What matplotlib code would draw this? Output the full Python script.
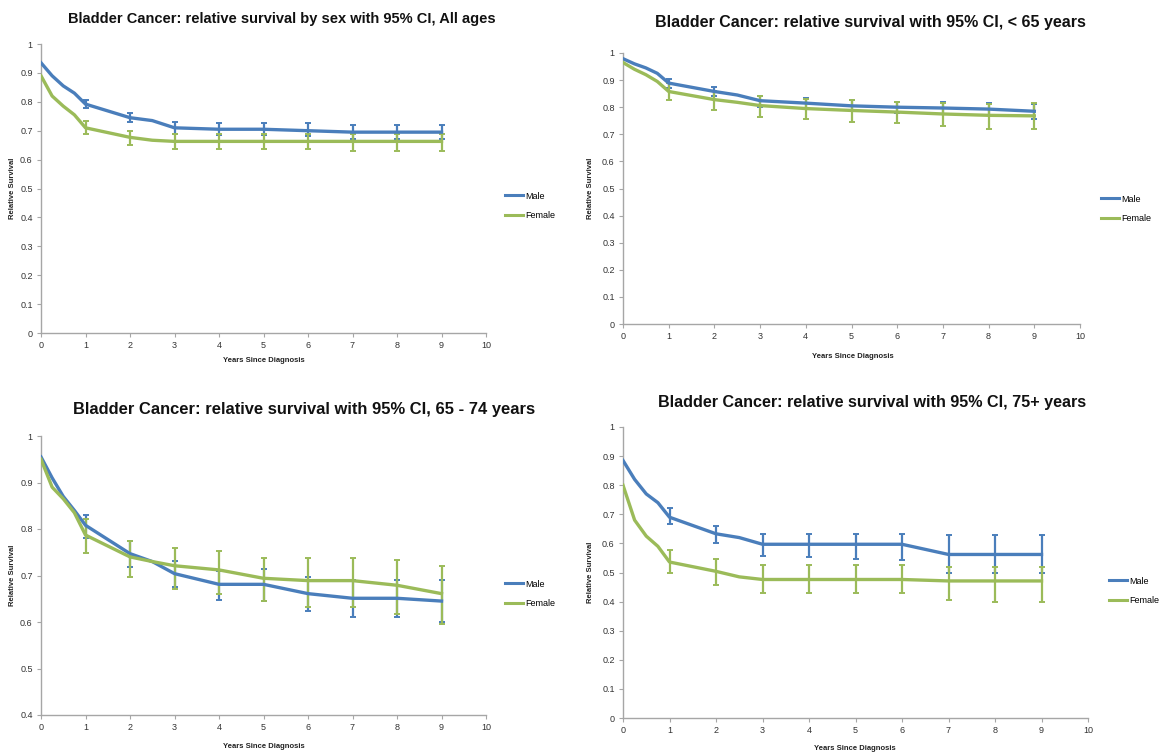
import numpy as np
import matplotlib
matplotlib.use("Agg")
import matplotlib.pyplot as plt
from matplotlib.lines import Line2D

plt.rcParams['font.family'] = ['Liberation Sans', 'DejaVu Sans']

# years for the survival curves, and the years that carry a 95% CI bar
years = [0, 0.25, 0.5, 0.75, 1, 2, 2.5, 3, 4, 5, 6, 7, 8, 9]
ci_years = [1, 2, 3, 4, 5, 6, 7, 8, 9]

# All ages
all_male = [0.935, 0.89, 0.855, 0.83, 0.792, 0.745, 0.735, 0.71, 0.705, 0.705, 0.70, 0.695, 0.695, 0.695]
all_female = [0.89, 0.82, 0.785, 0.755, 0.71, 0.677, 0.667, 0.663, 0.663, 0.663, 0.663, 0.663, 0.663, 0.663]
all_male_lo = [0.78, 0.73, 0.69, 0.685, 0.685, 0.68, 0.67, 0.67, 0.67]
all_male_hi = [0.805, 0.76, 0.73, 0.725, 0.725, 0.725, 0.72, 0.72, 0.72]
all_female_lo = [0.69, 0.65, 0.635, 0.635, 0.635, 0.635, 0.63, 0.63, 0.63]
all_female_hi = [0.735, 0.70, 0.69, 0.69, 0.69, 0.69, 0.69, 0.69, 0.69]

# < 65 years
u65_male = [0.979, 0.96, 0.945, 0.925, 0.889, 0.858, 0.845, 0.824, 0.815, 0.805, 0.80, 0.797, 0.793, 0.785]
u65_female = [0.965, 0.94, 0.92, 0.895, 0.858, 0.828, 0.818, 0.806, 0.795, 0.788, 0.782, 0.775, 0.77, 0.768]
u65_male_lo = [0.87, 0.84, 0.80, 0.795, 0.785, 0.78, 0.775, 0.77, 0.755]
u65_male_hi = [0.905, 0.875, 0.84, 0.835, 0.825, 0.82, 0.82, 0.815, 0.81]
u65_female_lo = [0.825, 0.79, 0.765, 0.755, 0.745, 0.74, 0.73, 0.72, 0.72]
u65_female_hi = [0.89, 0.86, 0.84, 0.83, 0.825, 0.82, 0.815, 0.81, 0.815]

# 65 - 74 years
mid_male = [0.955, 0.91, 0.87, 0.84, 0.808, 0.747, 0.73, 0.704, 0.681, 0.681, 0.661, 0.651, 0.651, 0.645]
mid_female = [0.95, 0.89, 0.865, 0.835, 0.787, 0.74, 0.73, 0.721, 0.712, 0.694, 0.689, 0.689, 0.679, 0.661]
mid_male_lo = [0.78, 0.718, 0.675, 0.648, 0.645, 0.623, 0.61, 0.61, 0.60]
mid_male_hi = [0.83, 0.775, 0.732, 0.71, 0.715, 0.697, 0.69, 0.69, 0.69]
mid_female_lo = [0.748, 0.697, 0.672, 0.66, 0.645, 0.633, 0.632, 0.618, 0.596]
mid_female_hi = [0.822, 0.775, 0.76, 0.752, 0.738, 0.737, 0.737, 0.733, 0.72]

# 75+ years
old_male = [0.885, 0.82, 0.77, 0.74, 0.69, 0.633, 0.62, 0.597, 0.597, 0.597, 0.597, 0.562, 0.562, 0.562]
old_female = [0.80, 0.68, 0.625, 0.59, 0.536, 0.504, 0.485, 0.476, 0.476, 0.476, 0.476, 0.471, 0.471, 0.471]
old_male_lo = [0.665, 0.60, 0.557, 0.552, 0.547, 0.543, 0.50, 0.50, 0.50]
old_male_hi = [0.72, 0.66, 0.633, 0.633, 0.633, 0.633, 0.63, 0.63, 0.63]
old_female_lo = [0.497, 0.457, 0.428, 0.428, 0.428, 0.428, 0.405, 0.40, 0.40]
old_female_hi = [0.578, 0.547, 0.527, 0.527, 0.527, 0.527, 0.52, 0.52, 0.52]

BLUE = '#4a7ebb'
GREEN = '#9bbb59'
AX_GREY = '#a6a6a6'

fig = plt.figure(figsize=(11.62, 7.53), dpi=100)
W, H = 1162.0, 753.0


def px_axes(l, t, r, b):
    return fig.add_axes([l / W, 1 - b / H, (r - l) / W, (b - t) / H])


def draw_panel(ax, male, female, mlo, mhi, flo, fhi, ymin, yticks):
    for lo, hi, c in [(mlo, mhi, BLUE), (flo, fhi, GREEN)]:
        lo = np.array(lo)
        hi = np.array(hi)
        ax.errorbar(ci_years, (lo + hi) / 2, yerr=(hi - lo) / 2, fmt='none',
                    ecolor=c, elinewidth=1.6, capsize=2.5, capthick=1.4, zorder=2)
    ax.plot(years, male, color=BLUE, lw=2.4, zorder=3)
    ax.plot(years, female, color=GREEN, lw=2.4, zorder=3)
    ax.set_xlim(0, 10)
    ax.set_ylim(ymin, 1)
    ax.set_xticks(range(0, 11))
    ax.set_yticks(yticks)
    ax.set_yticklabels([('%g' % v) for v in yticks])
    for s in ['top', 'right']:
        ax.spines[s].set_visible(False)
    for s in ['left', 'bottom']:
        ax.spines[s].set_color(AX_GREY)
        ax.spines[s].set_linewidth(1.0)
    ax.tick_params(axis='both', colors=AX_GREY, labelcolor='#333333', labelsize=6.5,
                   length=3, width=0.8, pad=3)


yt01 = [round(0.1 * i, 1) for i in range(11)]
yt_mid = [0.4, 0.5, 0.6, 0.7, 0.8, 0.9, 1.0]

panels = [
    # axes box (px), data, title, title pos + size, legend line start/rows, xlabel pos, ylabel x
    ((41, 44, 486, 333), (all_male, all_female, all_male_lo, all_male_hi, all_female_lo, all_female_hi, 0, yt01),
     'Bladder Cancer: relative survival by sex with 95% CI, All ages', (282, 19, 10.5), (505, 206), (264, 361), 13),
    ((623, 53, 1080, 324), (u65_male, u65_female, u65_male_lo, u65_male_hi, u65_female_lo, u65_female_hi, 0, yt01),
     'Bladder Cancer: relative survival with 95% CI, < 65 years', (870, 23, 11.5), (1101, 209), (853, 357), 591),
    ((41, 436, 486, 715), (mid_male, mid_female, mid_male_lo, mid_male_hi, mid_female_lo, mid_female_hi, 0.4, yt_mid),
     'Bladder Cancer: relative survival with 95% CI, 65 - 74 years', (304, 410, 11.9), (505, 594), (264, 747), 13),
    ((623, 427, 1088, 718), (old_male, old_female, old_male_lo, old_male_hi, old_female_lo, old_female_hi, 0, yt01),
     'Bladder Cancer: relative survival with 95% CI, 75+ years', (872, 403, 11.6), (1109, 591), (855, 748), 591),
]

for box, data, title, tpos, lpos, xlpos, ylx in panels:
    ax = px_axes(*box)
    draw_panel(ax, *data)
    fig.text(tpos[0] / W, 1 - tpos[1] / H, title, ha='center', va='center',
             fontsize=tpos[2], fontweight='bold', color='#111111')
    fig.text(xlpos[0] / W, 1 - xlpos[1] / H, 'Years Since Diagnosis', ha='center', va='center',
             fontsize=5.5, fontweight='bold', color='#222222')
    ymid = (box[1] + box[3]) / 2
    fig.text(ylx / W, 1 - ymid / H, 'Relative Survival', ha='center', va='center', rotation=90,
             fontsize=5.5, fontweight='bold', color='#222222')
    handles = [Line2D([0], [0], color=BLUE, lw=2.2), Line2D([0], [0], color=GREEN, lw=2.2)]
    fig.legend(handles, ['Male', 'Female'], loc='center left',
               bbox_to_anchor=(lpos[0] / W, 1 - lpos[1] / H), frameon=False,
               fontsize=6.5, handlelength=2.0, handletextpad=0.25, labelspacing=1.2,
               borderpad=0, borderaxespad=0)

fig.savefig('out.png', dpi=100)
